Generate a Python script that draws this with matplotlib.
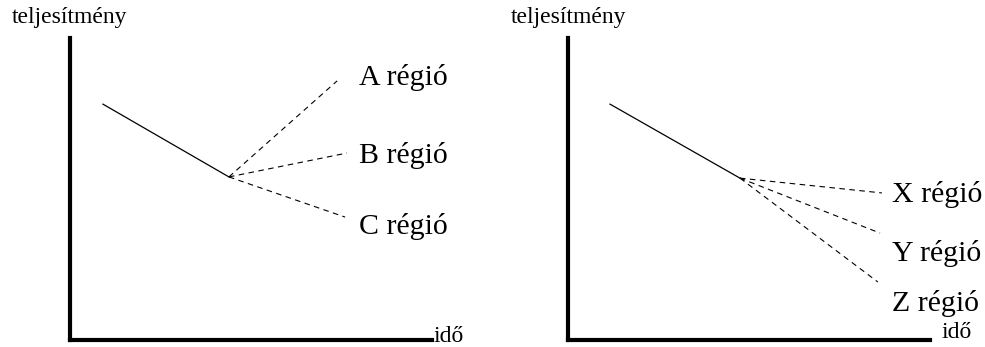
import matplotlib
matplotlib.use('Agg')
import matplotlib.pyplot as plt

# left panel: common trend, then three regional branches
left_trend_t = [0.91, 4.39]
left_trend_p = [7.81, 5.40]
left_regions = ['A régió', 'B régió', 'C régió']
left_branch_end_t = [7.38, 7.65, 7.60]
left_branch_end_p = [8.58, 6.19, 4.07]
left_label_p = [8.70, 6.12, 3.75]

# right panel
right_trend_t = [1.16, 4.75]
right_trend_p = [7.81, 5.36]
right_regions = ['X régió', 'Y régió', 'Z régió']
right_branch_end_t = [8.67, 8.62, 8.56]
right_branch_end_p = [4.87, 3.54, 1.92]
right_label_p = [4.82, 2.88, 1.22]

plt.rcParams['font.family'] = ['Liberation Serif', 'DejaVu Serif']

W, H = 985, 347
fig = plt.figure(figsize=(W / 100, H / 100), dpi=100)


def draw_panel(x0, trend_t, trend_p, regions, end_t, end_p, label_p, label_t, ylab_x, xlab_x, xlab_y):
    ax = fig.add_axes([x0 / W, 7 / H, 362 / W, 302 / H])
    ax.set_xlim(0, 10)
    ax.set_ylim(0, 10)
    for side in ['top', 'right']:
        ax.spines[side].set_visible(False)
    for side in ['left', 'bottom']:
        ax.spines[side].set_linewidth(3)
    ax.set_xticks([])
    ax.set_yticks([])
    ax.patch.set_alpha(0)

    ax.plot(trend_t, trend_p, color='black', linewidth=0.9)
    for name, et, ep, lp in zip(regions, end_t, end_p, label_p):
        ax.plot([trend_t[-1], et], [trend_p[-1], ep], color='black',
                linewidth=0.8, dashes=(5, 4))
        ax.text(label_t, lp, name, fontsize=21.5, ha='left', va='center')

    fig.text(ylab_x / W, 1 - 18 / H, 'teljesítmény', fontsize=17,
             ha='left', va='center')
    fig.text(xlab_x / W, 1 - xlab_y / H, 'idő', fontsize=17,
             ha='left', va='center')
    return ax


draw_panel(70, left_trend_t, left_trend_p, left_regions,
           left_branch_end_t, left_branch_end_p, left_label_p, 7.98, 12, 434, 336)
draw_panel(568, right_trend_t, right_trend_p, right_regions,
           right_branch_end_t, right_branch_end_p, right_label_p, 8.95, 511, 942, 333)

fig.savefig('out.png', dpi=100)
